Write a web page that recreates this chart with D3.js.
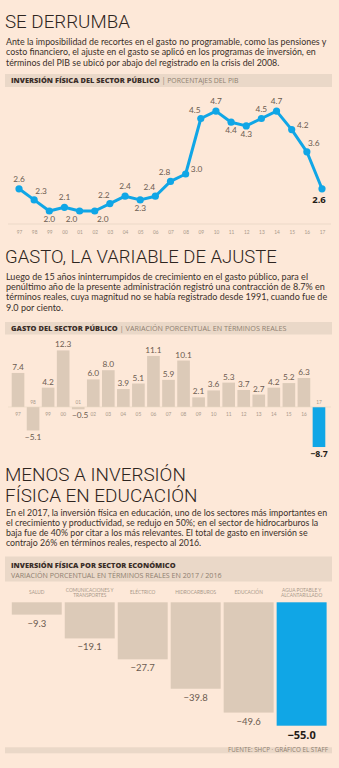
<!DOCTYPE html>
<html lang="es">
<head>
<meta charset="utf-8">
<script src="https://cdn.jsdelivr.net/npm/d3@7"></script>
<style>
  html, body { margin: 0; padding: 0; background: #fde8d8; }
  svg { display: block; }
  .title { font-family: Roboto, "Open Sans", sans-serif; font-weight: 300; fill: #2e2520; }
  .body { font-family: Lato, "Open Sans", sans-serif; font-weight: 400; fill: #3a2f29; }
  .hdr-b { font-family: "Open Sans", sans-serif; font-weight: 800; fill: #3a2e28; }
  .hdr-l { font-family: "Open Sans", sans-serif; font-weight: 400; fill: #8f7f70; }
  .tick { font-family: Lato, sans-serif; fill: #a8988a; }
  .val { font-family: Lato, sans-serif; fill: #6b5b50; }
  .val-strong { font-family: "Open Sans", sans-serif; font-weight: 700; fill: #241b16; }
</style>
</head>
<body>
<svg id="chart" width="339" height="768"></svg>
<script>
// Inversión física del sector público, % del PIB
const lineYears = ["97","98","99","00","01","02","03","04","05","06","07","08","09","10","11","12","13","14","15","16","17"];
const lineValues = [2.6, 2.3, 2.0, 2.1, 2.0, 2.0, 2.2, 2.4, 2.3, 2.4, 2.8, 3.0, 4.5, 4.7, 4.4, 4.3, 4.5, 4.7, 4.2, 3.6, 2.6];

// Gasto del sector público, variación % real
const barYears = ["97","98","99","00","01","02","03","04","05","06","07","08","09","10","11","12","13","14","15","16","17"];
const barValues = [7.4, -5.1, 4.2, 12.3, -0.5, 6.0, 8.0, 3.9, 5.1, 11.1, 5.9, 10.1, 2.1, 3.6, 5.3, 3.7, 2.7, 4.2, 5.2, 6.3, -8.7];

// Inversión física por sector económico, variación % real 2017/2016
const sectors = [["SALUD"], ["COMUNICACIONES Y", "TRANSPORTES"], ["ELÉCTRICO"], ["HIDROCARBUROS"], ["EDUCACIÓN"], ["AGUA POTABLE Y", "ALCANTARILLADO"]];
const sectorValues = [-9.3, -19.1, -27.7, -39.8, -49.6, -55.0];

// label placement around each point of the line
const lineLabelPos = ["n","ne","s","n","sw","se","nw","n","s","nw","nw","e","nw","n","s","s","n","n","e","ne","s"];

const BLUE = "#10a6e6";
const TAN = "#dccab8";
const BAND = "#ead8c8";

const svg = d3.select("#chart");
const fmt1 = d3.format(".1f");

// scale a text's font size so that the widest of the given nodes spans the given width
function fitSize(sel, nodes, width) {
  const fs = parseFloat(sel.attr("font-size"));
  const w = d3.max(nodes, n => n.getComputedTextLength());
  sel.attr("font-size", fs * width / w);
}

function paragraph(lines, x, y0, lh, size, maxWidth) {
  const t = svg.append("text").attr("class", "body").attr("font-size", size);
  const spans = lines.map((l, i) => t.append("tspan").attr("x", x).attr("y", y0 + i * lh).text(l));
  fitSize(t, spans.map(s => s.node()), maxWidth);
}
function title(lines, x, y0, lh, size, firstWidth) {
  const t = svg.append("text").attr("class", "title").attr("font-size", size);
  const spans = lines.map((l, i) => t.append("tspan").attr("x", x).attr("y", y0 + i * lh).text(l));
  fitSize(t, [spans[0].node()], firstWidth);
}
function band(y, h) {
  svg.append("rect").attr("x", 5).attr("y", y).attr("width", 327).attr("height", h)
    .attr("fill", BAND);
}
function label(cls, x, y, size, txt, width) {
  const t = svg.append("text").attr("class", cls).attr("x", x).attr("y", y)
    .attr("font-size", size).text(txt);
  fitSize(t, [t.node()], width);
  return t;
}
function header(y, bold, boldW, light, lightW) {
  const b = label("hdr-b", 11, y, 6.5, bold, boldW);
  if (light) {
    const x2 = 11 + b.node().getComputedTextLength() + 2;
    label("hdr-l", x2, y, 6.5, "| " + light, lightW);
  }
}

/* ---------- Section 1: line chart ---------- */
title(["SE DERRUMBA"], 5, 28, 0, 20, 125);
paragraph([
  "Ante la imposibilidad de recortes en el gasto no programable, como las pensiones y",
  "costo financiero, el ajuste en el gasto se aplicó en los programas de inversión, en",
  "términos del PIB se ubicó por abajo del registrado en la crisis del 2008."
], 6, 45, 10.4, 9, 321);
band(74, 13);
header(83, "INVERSIÓN FÍSICA DEL SECTOR PÚBLICO", 149, "PORCENTAJES DEL PIB", 77);

const xL = d3.scalePoint().domain(lineYears).range([19, 322]);
const yL = d3.scaleLinear().domain([0, 5]).range([285, 100]);

svg.append("line").attr("x1", 8).attr("x2", 331).attr("y1", 224).attr("y2", 224)
  .attr("stroke", "#ecd9c8").attr("stroke-width", 1);

const axL = svg.append("g").attr("transform", "translate(0,224)")
  .call(d3.axisBottom(xL).tickSize(0).tickPadding(7));
axL.select(".domain").remove();
axL.selectAll("text").attr("class", "tick").attr("font-size", 4.8).attr("fill", "#b3a394");

const pts = lineYears.map((y, i) => ({ year: y, v: lineValues[i], pos: lineLabelPos[i], last: i === lineYears.length - 1 }));

svg.append("path").datum(pts)
  .attr("fill", "none").attr("stroke", BLUE).attr("stroke-width", 3).attr("stroke-linejoin", "round")
  .attr("d", d3.line().x(d => xL(d.year)).y(d => yL(d.v)));

svg.selectAll("circle.pt").data(pts).join("circle").attr("class", "pt")
  .attr("cx", d => xL(d.year)).attr("cy", d => yL(d.v)).attr("r", 3.6).attr("fill", BLUE);

const off = { n: [0, -7], s: [0, 11], e: [11, -2], ne: [7, -6], nw: [-6, -6], sw: [-8, 11], se: [8, 11] };
svg.selectAll("text.lv").data(pts).join("text").attr("class", d => d.last ? "lv val-strong" : "lv val")
  .attr("font-size", d => d.last ? 9.5 : 8.3)
  .attr("text-anchor", "middle")
  .attr("x", d => xL(d.year) + off[d.pos][0] + (d.last ? -3 : 0))
  .attr("y", d => yL(d.v) + off[d.pos][1] + (d.last ? 3 : 0))
  .text(d => fmt1(d.v));

/* ---------- Section 2: bar chart ---------- */
title(["GASTO, LA VARIABLE DE AJUSTE"], 5, 263, 0, 20, 272);
paragraph([
  "Luego de 15 años ininterrumpidos de crecimiento en el gasto público, para el",
  "penúltimo año de la presente administración registró una contracción de 8.7% en",
  "términos reales, cuya magnitud no se había registrado desde 1991, cuando fue de",
  "9.0 por ciento."
], 6, 280, 10.2, 9, 322);
band(322, 12.5);
header(331, "GASTO DEL SECTOR PÚBLICO", 107, "VARIACIÓN PORCENTUAL EN TÉRMINOS REALES", 167);

const xB = d3.scaleBand().domain(barYears).range([10.5, 326.5]).paddingInner(0.16).paddingOuter(0.08);
const yB = d3.scaleLinear().domain([-10, 15]).range([453, 338]);
const bars = barYears.map((y, i) => ({ year: y, v: barValues[i], last: i === barYears.length - 1 }));

svg.selectAll("rect.gb").data(bars).join("rect").attr("class", "gb")
  .attr("x", d => xB(d.year)).attr("width", xB.bandwidth())
  .attr("y", d => yB(Math.max(0, d.v)))
  .attr("height", d => Math.abs(yB(d.v) - yB(0)))
  .attr("fill", d => d.last ? BLUE : TAN);

svg.append("line").attr("x1", 8).attr("x2", 331).attr("y1", yB(0)).attr("y2", yB(0))
  .attr("stroke", "#ead6c4").attr("stroke-width", 0.6);

svg.selectAll("text.yr").data(bars).join("text").attr("class", "yr tick")
  .attr("font-size", 4.8).attr("text-anchor", "middle")
  .attr("x", d => xB(d.year) + xB.bandwidth() / 2)
  .attr("y", d => d.v < 0 ? yB(0) - 3.5 : yB(0) + 8.5)
  .text(d => d.year);

svg.selectAll("text.bv").data(bars).join("text")
  .attr("class", d => d.last ? "bv val-strong" : "bv val")
  .attr("font-size", d => d.last ? 8.8 : 8.3)
  .attr("text-anchor", "middle")
  .attr("x", d => xB(d.year) + xB.bandwidth() / 2 + (d.v < 0 && d.v > -1 ? 2 : 0))
  .attr("y", d => d.v >= 0 ? yB(d.v) - 3 : (d.v > -1 ? yB(0) + 11 : yB(d.v) + 9.5))
  .text(d => fmt1(d.v));

/* ---------- Section 3: sector bars ---------- */
title(["MENOS A INVERSIÓN", "FÍSICA EN EDUCACIÓN"], 5, 480.5, 21, 20, 181);
paragraph([
  "En el 2017, la inversión física en educación, uno de los sectores más importantes en",
  "el crecimiento y productividad, se redujo en 50%; en el sector de hidrocarburos la",
  "baja fue de 40% por citar a los más relevantes. El total de gasto en inversión se",
  "contrajo 26% en términos reales, respecto al 2016."
], 6, 516, 10, 9, 322);
band(556.5, 25);
label("hdr-b", 11, 567.5, 6.5, "INVERSIÓN FÍSICA POR SECTOR ECONÓMICO", 165);
label("hdr-l", 11, 577.5, 6, "VARIACIÓN PORCENTUAL EN TÉRMINOS REALES EN 2017 / 2016", 211);

const xS = d3.scaleBand().domain(sectors.map(s => s.join(" "))).range([10.2, 328.2])
  .paddingInner(0.057).paddingOuter(0.03);
const yS = d3.scaleLinear().domain([0, -55]).range([592, 725.7]);
const plotTop = 602.3;
const sec = sectors.map((s, i) => ({ key: s.join(" "), lines: s, v: sectorValues[i], last: i === sectors.length - 1 }));

svg.selectAll("rect.sb").data(sec).join("rect").attr("class", "sb")
  .attr("x", d => xS(d.key)).attr("width", xS.bandwidth())
  .attr("y", plotTop).attr("height", d => yS(d.v) - plotTop)
  .attr("fill", d => d.last ? BLUE : TAN);

const catText = svg.selectAll("text.cat").data(sec).join("text").attr("class", "cat tick")
  .attr("font-size", 4.8).attr("text-anchor", "middle").attr("fill", "#9e8e80");
catText.each(function(d) {
  const cx = xS(d.key) + xS.bandwidth() / 2;
  d.lines.forEach((l, i) => d3.select(this).append("tspan").attr("x", cx)
    .attr("y", 593.5 + i * 5.2 - (d.lines.length > 1 ? 1.5 : 0)).text(l));
});

svg.selectAll("text.sv").data(sec).join("text")
  .attr("class", d => d.last ? "sv val-strong" : "sv val")
  .attr("font-size", d => d.last ? 11 : 9.5)
  .attr("text-anchor", "middle")
  .attr("x", d => xS(d.key) + xS.bandwidth() / 2)
  .attr("y", d => yS(d.v) + (d.last ? 13.5 : 12))
  .text(d => fmt1(d.v));

/* footer */
band(747.3, 6);
const src = label("hdr-l", 328, 752.3, 4.6, "FUENTE: SHCP · GRÁFICO EL STAFF", 100);
src.attr("text-anchor", "end").attr("fill", "#a89888");
</script>
</body>
</html>
